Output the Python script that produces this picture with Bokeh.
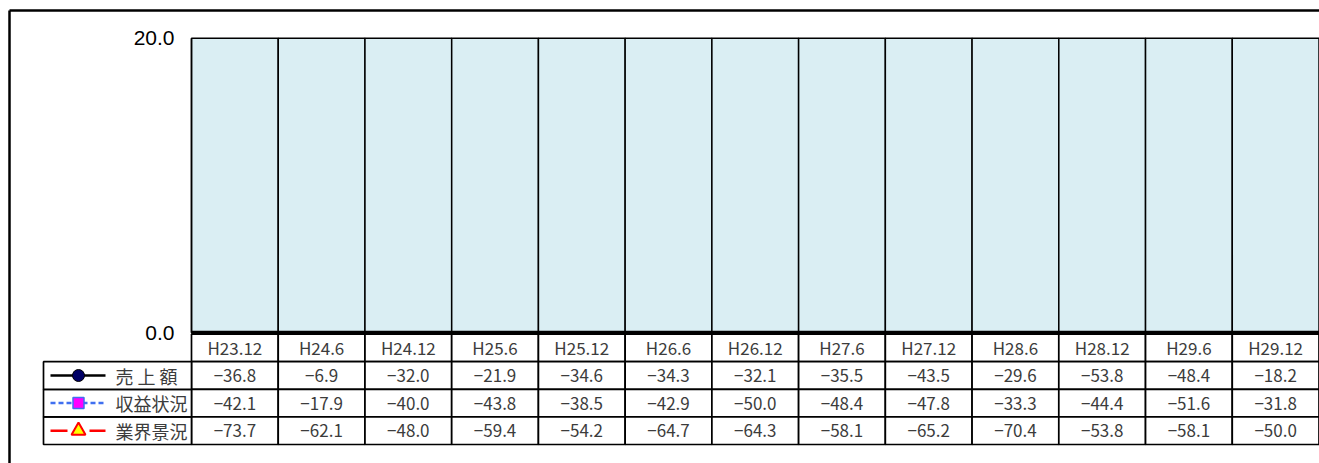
import numpy as np
from bokeh.plotting import figure
from bokeh.models import Range1d, LinearAxis, FixedTicker, NumeralTickFormatter, ColumnDataSource
from bokeh.core.properties import value
from bokeh.embed import file_html
from bokeh.resources import INLINE

# ---------------- data ----------------
categories = ["H23.12", "H24.6", "H24.12", "H25.6", "H25.12", "H26.6", "H26.12",
              "H27.6", "H27.12", "H28.6", "H28.12", "H29.6", "H29.12"]
sales = [-36.8, -6.9, -32.0, -21.9, -34.6, -34.3, -32.1, -35.5, -43.5, -29.6, -53.8, -48.4, -18.2]
profit = [-42.1, -17.9, -40.0, -43.8, -38.5, -42.9, -50.0, -48.4, -47.8, -33.3, -44.4, -51.6, -31.8]
industry = [-73.7, -62.1, -48.0, -59.4, -54.2, -64.7, -64.3, -58.1, -65.2, -70.4, -53.8, -58.1, -50.0]
series_names = ["売 上 額", "収益状況", "業界景況"]
y_ticks = [0, 20]
y_min, y_max = 0, 20

# ---------------- layout (page pixels; the page has no margin) ----------------
W, H = 1319, 463
FRAME_L, FRAME_T = 9, 10
FRAME_R, FRAME_B = W, H
PLOT_L, PLOT_R = 191.0, 1318.5
PLOT_T, PLOT_B = 37.7, 332.3
TABLE_B = 444.0
ROW_H = 27.6
LEG_L = 43.0

n = len(categories)
cw = (PLOT_R - PLOT_L) / n
ys = (PLOT_B - PLOT_T) / (y_max - y_min)


def ux(px):
    return (px - PLOT_L) / cw


x_range = Range1d(ux(FRAME_L), ux(FRAME_R))
y_range = Range1d(y_min - (FRAME_B - PLOT_B) / ys, y_max + (PLOT_T - FRAME_T) / ys)
tbl_range = Range1d(-(FRAME_B - TABLE_B) / ROW_H, (TABLE_B - FRAME_T) / ROW_H)

p = figure(width=W, height=H, x_range=x_range, y_range=y_range,
           output_backend="svg", toolbar_location=None,
           min_border_left=FRAME_L, min_border_top=FRAME_T,
           min_border_right=0, min_border_bottom=0,
           outline_line_color=None, background_fill_color="white",
           border_fill_color="white")
p.extra_y_ranges = {"tbl": tbl_range}
p.xaxis.visible = False
p.grid.visible = False

# y axis placed at the plot-area left edge
ya = p.yaxis[0]
ya.fixed_location = 0
ya.bounds = (y_min, y_max)
ya.ticker = FixedTicker(ticks=y_ticks)
ya.formatter = NumeralTickFormatter(format="0.0")
ya.major_tick_out = 0
ya.major_tick_in = 0
ya.minor_tick_line_color = None
ya.major_tick_line_color = None
ya.axis_line_color = "black"
ya.axis_line_width = 1.5
ya.major_label_standoff = 17
ya.major_label_text_font = "Liberation Sans"
ya.major_label_text_font_size = "21px"
ya.major_label_text_color = "black"

# outer chart border (left & top) as bare axes
for side in ("left", "above"):
    ax = LinearAxis(ticker=FixedTicker(ticks=[]), axis_line_width=2.5, axis_line_color="black",
                    major_tick_out=0, major_tick_in=0, minor_tick_out=0, minor_tick_in=0,
                    major_label_standoff=0, major_tick_line_color=None, minor_tick_line_color=None)
    p.add_layout(ax, side)

xc = np.arange(n) + 0.5

# plot area background (one cell per category)
p.vbar(x=xc, width=1, bottom=y_min, top=y_max, fill_color="#DAEEF3",
       line_color="black", line_width=1.5)

# series (all below zero -> hidden beneath the data table, as in the source)
src = ColumnDataSource(dict(x=xc, sales=sales, profit=profit, industry=industry))
p.line("x", "sales", source=src, line_color="black", line_width=2.5)
p.scatter("x", "sales", source=src, marker="circle", size=12, fill_color="#000066", line_color="black")
p.line("x", "profit", source=src, line_color="#3F6FF0", line_width=2.5, line_dash="5 3")
p.scatter("x", "profit", source=src, marker="square", size=11, fill_color="#FF00FF", line_color="#3F6FF0",
          line_width=1.5)
p.line("x", "industry", source=src, line_color="#FF0000", line_width=2.5, line_dash="17 22")
p.scatter("x", "industry", source=src, marker="triangle", size=14, fill_color="#FFFF00",
          line_color="#FF0000", line_width=2)

# data table
p.quad(left=x_range.start, right=n, bottom=tbl_range.start, top=4, y_range_name="tbl",
       fill_color="white", line_color=None)
p.quad(left=np.arange(n), right=np.arange(n) + 1, bottom=3, top=4, y_range_name="tbl",
       fill_color="white", line_color="black", line_width=1.7)
for r in range(3):
    p.quad(left=np.arange(n), right=np.arange(n) + 1, bottom=2 - r, top=3 - r, y_range_name="tbl",
           fill_color="white", line_color="black", line_width=1.7)
p.quad(left=ux(LEG_L), right=0, bottom=[0, 1, 2], top=[1, 2, 3], y_range_name="tbl",
       fill_color="white", line_color="black", line_width=1.7)

# zero line
p.segment(x0=0, y0=0, x1=n, y1=0, line_color="black", line_width=4)

num_font = value("Noto Sans CJK JP")
txt_col = "#3c3c3c"
p.text(x=xc, y=[3.5] * n, text=categories, y_range_name="tbl", text_align="center",
       text_baseline="middle", text_font=num_font, text_font_size="17px", text_color=txt_col)


def fmt(v):
    return f"{v:.1f}".replace("-", "\u2212")


for r, vals in enumerate([sales, profit, industry]):
    p.text(x=xc, y=[2.5 - r] * n, text=[fmt(v) for v in vals], y_range_name="tbl",
           text_align="center", text_baseline="middle", text_font=num_font,
           text_font_size="17px", text_color=txt_col)

# legend keys inside the table
key_y = [2.5, 1.5, 0.5]
k0, k1, km = ux(50), ux(105), ux(78)
p.segment(x0=k0, y0=key_y[0], x1=k1, y1=key_y[0], y_range_name="tbl", line_color="black", line_width=2.5)
p.scatter(x=[km], y=[key_y[0]], y_range_name="tbl", marker="circle", size=12,
          fill_color="#000066", line_color="black")
p.segment(x0=k0, y0=key_y[1], x1=k1, y1=key_y[1], y_range_name="tbl", line_color="#3F6FF0",
          line_width=2.5, line_dash="5 3")
p.scatter(x=[km], y=[key_y[1]], y_range_name="tbl", marker="square", size=11,
          fill_color="#FF00FF", line_color="#3F6FF0", line_width=1.5)
p.segment(x0=k0, y0=key_y[2], x1=k1, y1=key_y[2], y_range_name="tbl", line_color="#FF0000",
          line_width=2.5, line_dash="17 22")
p.scatter(x=[km], y=[key_y[2]], y_range_name="tbl", marker="triangle", size=14,
          fill_color="#FFFF00", line_color="#FF0000", line_width=2)
p.text(x=[ux(115)] * 3, y=key_y, text=series_names, y_range_name="tbl", text_align="left",
       text_baseline="middle", text_font=value("Noto Sans CJK JP"), text_font_size="18px",
       text_color=txt_col)

open("out.html", "w").write(file_html(p, INLINE))
